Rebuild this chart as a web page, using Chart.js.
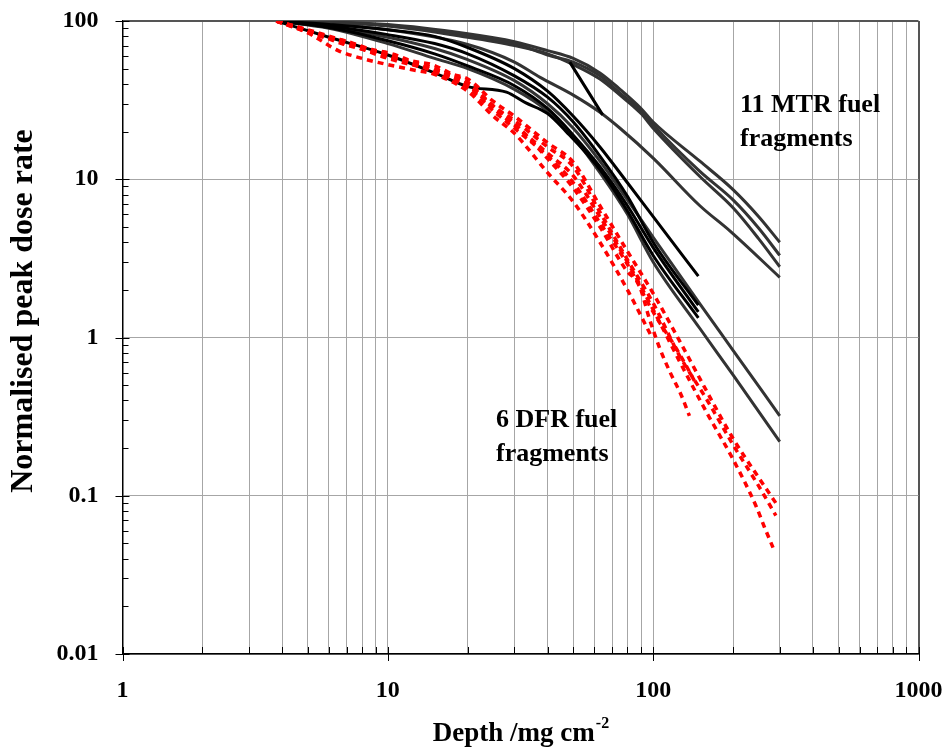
<!DOCTYPE html>
<html lang="en">
<head>
<meta charset="UTF-8">
<title>Normalised peak dose rate vs depth</title>
<script src="https://cdn.jsdelivr.net/npm/chart.js"></script>
<style>
  body { margin: 0; background: #fff; }
  #wrap { width: 946px; height: 747px; }
</style>
</head>
<body>
<div id="wrap"><canvas id="doseChart" width="946" height="747"></canvas></div>
<script>
// values: [depth mg/cm2, normalised peak dose rate]
// 11 MTR fuel fragments
const mtr1 = [[3.8,100],[10,95],[20,83],[30,74],[40,65],[50,58],[63,47],[75,37],[90,28],[100,23],[150,13],[200,8.6],[250,5.8],[300,4.0]];
const mtr2 = [[3.8,100],[10,94],[20,81],[30,72],[40,61],[50,55],[63,45],[75,35],[90,27],[100,22],[150,11.2],[200,7.4],[250,4.9],[300,3.3]];
const mtr3 = [[3.8,100],[10,93],[20,79],[30,70],[40,62],[50,53],[63,43],[75,34],[90,26],[100,21],[150,10.4],[200,6.6],[250,4.2],[300,2.8]];
const mtr4 = [[3.8,100],[10,88],[20,71],[30,55],[37.5,44],[50,34],[63,26.5],[75,21],[100,13.6],[150,6.8],[195,4.7],[300,2.4]];
const mtr5 = [[48.5,55],[64.5,25.5]];
const mtr6 = [[3.8,100],[6,95],[10,88],[15,80],[20,68],[30,50],[40,36],[50,25],[63,16],[80,9.5],[100,5.8],[148,2.44]];
const mtr7 = [[3.8,100],[6,93],[10,82],[15,72],[20,62],[30,45],[40,33],[50,23],[63,14],[80,7.8],[100,4.0],[148,1.6]];
const mtr8 = [[3.8,100],[6,92],[10,79],[15,67],[20,57],[30,42],[40,30],[50,21],[63,13],[80,7.4],[100,4.3],[150,1.63],[200,0.83],[300,0.32]];
const mtr9 = [[3.8,100],[6,91],[10,75],[15,62],[20,52],[30,39],[40,28],[50,19],[63,12],[80,6.8],[100,3.7],[148,1.45]];
const mtr10 = [[3.8,100],[6,90],[10,72],[15,58],[20,50],[30,37],[40,27],[50,18.5],[63,11],[80,6.0],[100,3.0],[150,1.14],[200,0.58],[300,0.22]];
const mtr11 = [[3.8,100],[6,79],[10,61],[15,47],[20,38.5],[28,35.5],[33,30.5],[40,26],[47,20],[63,11.5],[80,6.3],[100,3.3],[148,1.33]];

// 6 DFR fuel fragments
const dfr1 = [[3.8,100],[5,84],[6.5,65],[8,58],[10,53],[12.5,49],[15,46],[20,36],[25,25],[30,19.5],[40,11],[50,7.2],[63,4.0],[80,2.0],[99,1.0]];
const dfr2 = [[3.8,100],[5,88],[7,74],[10,60],[15,50],[20,39],[25,29],[30,22.5],[40,13.5],[50,8.8],[63,5.0],[80,2.6],[88,2.2],[97,1.3],[106,0.85],[116,0.6],[127,0.44],[137,0.32]];
const dfr3 = [[3.8,100],[5,86],[7,72],[10,58],[15,48],[20,38],[25,27],[30,21],[40,14],[50,9.5],[63,5.3],[80,2.9],[100,1.45],[125,0.8],[146,0.5]];
const dfr4 = [[3.8,100],[5,87],[6.7,72],[8.7,64],[10.4,58],[12.3,55],[15,48],[20,40],[25,28],[30,22],[40,14.6],[50,10.5],[63,5.8],[80,3.0],[100,1.5],[125,0.72],[160,0.33],[200,0.17],[245,0.085],[263,0.063],[283,0.047]];
const dfr5 = [[3.8,100],[4.7,90],[6,78],[8,68],[10,61],[12.3,54],[15,49],[20,41],[25,29],[30,23.5],[40,16],[50,12],[63,6.2],[80,3.1],[100,1.65],[125,0.78],[160,0.40],[200,0.21],[250,0.115],[290,0.075]];
const dfr6 = [[3.8,100],[4.7,88],[5.5,80],[6.7,76],[8.7,66],[10.4,62],[12.3,56],[14.7,53],[17.6,46],[20,43],[25,31],[30,25],[40,17],[50,12.8],[63,6.8],[80,3.5],[100,1.9],[125,0.97],[160,0.45],[200,0.23],[250,0.13],[290,0.09]];

// axes
const xGridValues = [1,2,3,4,5,6,7,8,9,10,20,30,40,50,60,70,80,90,100,200,300,400,500,600,700,800,900,1000];
const xLabelValues = [1,10,100,1000];
const yDecades = [0.01,0.1,1,10,100];
const yLabels = ['0.01','0.1','1','10','100'];
const yMinor = [0.02,0.03,0.04,0.05,0.06,0.07,0.08,0.09,0.2,0.3,0.4,0.5,0.6,0.7,0.8,0.9,2,3,4,5,6,7,8,9,20,30,40,50,60,70,80,90];

const serif = '"Liberation Serif", "Times New Roman", serif';

function line(pts, color, width, dash) {
    return {
        data: pts.map(p => ({x: p[0], y: p[1]})),
        borderColor: color,
        borderWidth: width,
        borderDash: dash || [],
        borderCapStyle: 'butt',
        pointRadius: 0,
        fill: false,
        cubicInterpolationMode: 'monotone'
    };
}

const red = '#ff0000', gray = '#333333', black = '#000000';
const dash = [6, 5];

const datasets = [
    line(dfr1, red, 3.5, dash), line(dfr2, red, 3.5, dash), line(dfr3, red, 3.5, dash),
    line(dfr4, red, 3.5, dash), line(dfr5, red, 3.5, dash), line(dfr6, red, 3.5, dash),
    line(mtr5, black, 3), line(mtr6, black, 3), line(mtr7, black, 3), line(mtr9, black, 3), line(mtr11, black, 3),
    line(mtr8, gray, 3), line(mtr10, gray, 3),
    line(mtr1, gray, 3), line(mtr2, gray, 3), line(mtr3, gray, 3), line(mtr4, gray, 3)
];

// axis tick marks, axis titles and the two notes
const extras = {
    id: 'extras',
    afterDraw(chart) {
        const ctx = chart.ctx, a = chart.chartArea, x = chart.scales.x, y = chart.scales.y;
        ctx.save();
        ctx.strokeStyle = '#000';
        ctx.lineWidth = 1;
        xGridValues.forEach(v => {
            const px = Math.round(x.getPixelForValue(v)) + 0.5;
            const major = xLabelValues.includes(v);
            ctx.beginPath();
            ctx.moveTo(px, a.bottom - 7);
            ctx.lineTo(px, a.bottom + (major ? 7 : 0));
            ctx.stroke();
        });
        yDecades.forEach(v => {
            const py = Math.round(y.getPixelForValue(v)) + 0.5;
            ctx.beginPath();
            ctx.moveTo(a.left - 7, py);
            ctx.lineTo(a.left + 7, py);
            ctx.stroke();
        });
        yMinor.forEach(v => {
            const py = Math.round(y.getPixelForValue(v)) + 0.5;
            ctx.beginPath();
            ctx.moveTo(a.left, py);
            ctx.lineTo(a.left + 6, py);
            ctx.stroke();
        });

        ctx.fillStyle = '#000';
        ctx.textBaseline = 'alphabetic';

        // x title with superscript
        ctx.font = 'bold 27px ' + serif;
        const main = 'Depth /mg cm';
        const w1 = ctx.measureText(main).width;
        ctx.font = 'bold 16px ' + serif;
        const w2 = ctx.measureText('-2').width;
        const x0 = (a.left + a.right) / 2 - (w1 + w2) / 2;
        ctx.font = 'bold 27px ' + serif;
        ctx.textAlign = 'left';
        ctx.fillText(main, x0, 741);
        ctx.font = 'bold 16px ' + serif;
        ctx.fillText('-2', x0 + w1 + 1, 728);

        // y title
        ctx.save();
        ctx.translate(32, 311);
        ctx.rotate(-Math.PI / 2);
        ctx.textAlign = 'center';
        ctx.font = 'bold 32px ' + serif;
        ctx.fillText('Normalised peak dose rate', 0, 0);
        ctx.restore();

        // notes
        ctx.font = 'bold 26px ' + serif;
        ctx.textAlign = 'left';
        ctx.fillText('11 MTR fuel', 740, 112);
        ctx.fillText('fragments', 740, 146);
        ctx.fillText('6 DFR fuel', 496, 427);
        ctx.fillText('fragments', 496, 461);
        ctx.restore();
    }
};

new Chart(document.getElementById('doseChart'), {
    type: 'line',
    data: { datasets: datasets },
    options: {
        responsive: false,
        animation: false,
        devicePixelRatio: 1,
        layout: { padding: { top: 21, right: 27.5, left: 0, bottom: 0 } },
        plugins: { legend: { display: false }, tooltip: { enabled: false } },
        scales: {
            x: {
                type: 'logarithmic',
                min: 1, max: 1000,
                afterBuildTicks: s => { s.ticks = xGridValues.map(v => ({ value: v })); },
                afterFit: s => { s.height = 93; s.paddingLeft = 0; s.paddingRight = 0; },
                ticks: {
                    autoSkip: false, maxRotation: 0, padding: 22, color: '#000',
                    font: { family: serif, size: 24, weight: 'bold' },
                    callback: v => xLabelValues.includes(v) ? String(v) : ''
                },
                grid: {
                    drawTicks: false,
                    color: c => (c.tick && c.tick.value === 1000) ? '#555' : '#a6a6a6',
                    lineWidth: c => (c.tick && c.tick.value === 1000) ? 2 : 1
                },
                border: { color: '#000', width: 1.5 }
            },
            y: {
                type: 'logarithmic',
                min: 0.01, max: 100,
                afterBuildTicks: s => { s.ticks = yDecades.map(v => ({ value: v })); },
                afterFit: s => { s.width = 122.5; s.paddingTop = 0; s.paddingBottom = 0; },
                ticks: {
                    autoSkip: false, padding: 24, color: '#000',
                    font: { family: serif, size: 24, weight: 'bold' },
                    callback: (v, i) => yLabels[i]
                },
                grid: {
                    drawTicks: false,
                    color: c => (c.tick && c.tick.value === 100) ? '#555' : '#a6a6a6',
                    lineWidth: c => (c.tick && c.tick.value === 100) ? 2 : 1
                },
                border: { color: '#000', width: 1.5 }
            }
        }
    },
    plugins: [extras]
});
</script>
</body>
</html>
